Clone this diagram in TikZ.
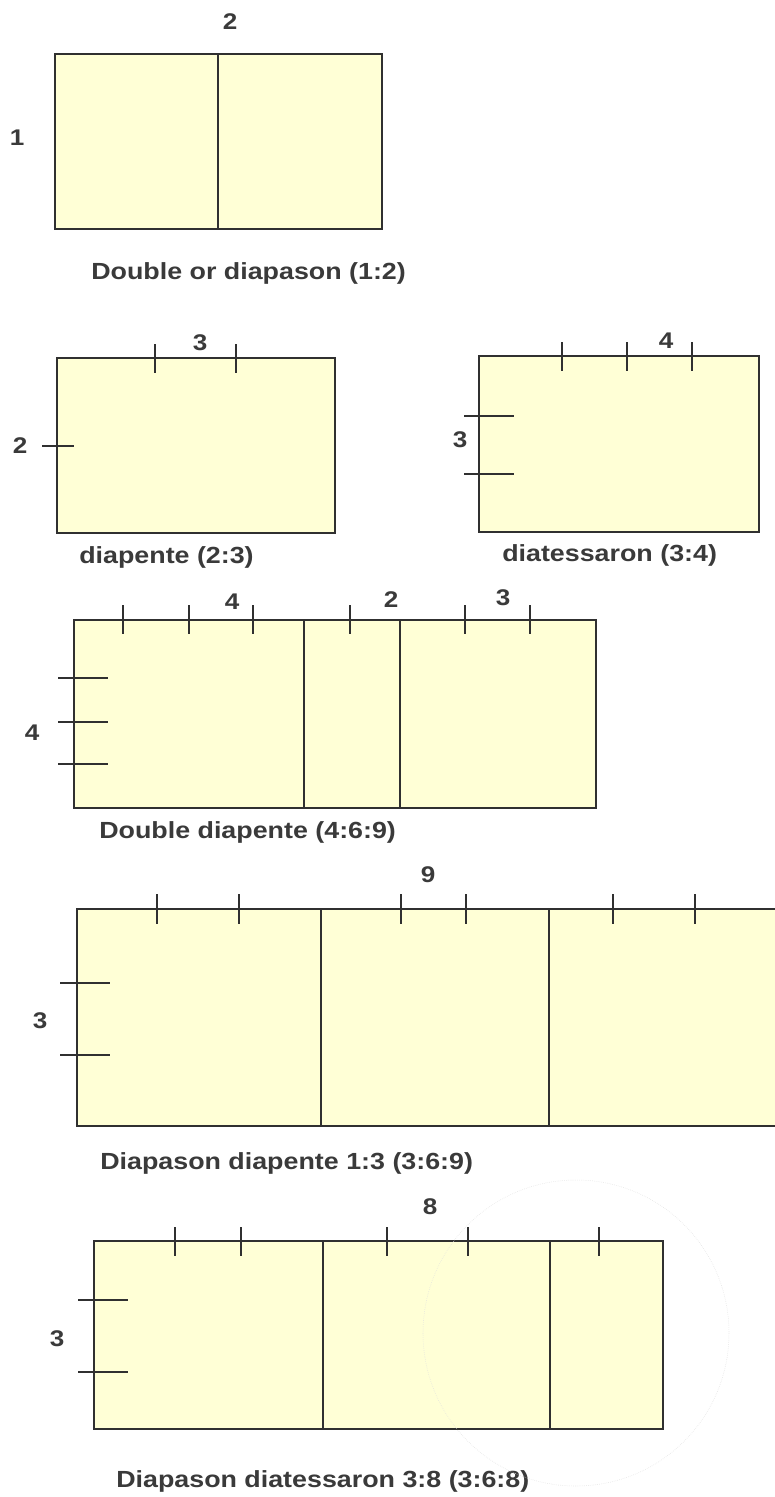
\documentclass[tikz,border=0pt]{standalone}
\usepackage{fontspec}
\setmainfont{Liberation Sans}
\newfontfamily\labfont[FakeStretch=1.15]{Liberation Sans}
\definecolor{paper}{HTML}{FFFFD6}
\definecolor{ink}{HTML}{303030}
\definecolor{txt}{HTML}{3A3A3A}
\begin{document}
\begin{tikzpicture}[x=0.75pt,y=-0.75pt,
  panel/.style={draw=ink,line width=1.7pt,fill=paper},
  divider/.style={draw=ink,line width=1.7pt},
  tickmark/.style={draw=ink,line width=1.7pt},
  num/.style={text=txt,font=\labfont\bfseries\fontsize{17}{18}\selectfont,inner sep=0pt},
  caption/.style={text=txt,font=\labfont\bfseries\fontsize{17.5}{20}\selectfont,inner sep=0pt,anchor=west},
  scan/.style={draw=gray!25,line width=0.4pt,densely dotted}]
\fill[white] (0,0) rectangle (775,1497);
\useasboundingbox (0,0) rectangle (775,1497);
\clip (0,0) rectangle (775,1497);

% 1 : Double or diapason
\draw[panel] (55,54) rectangle (382,229);
\draw[divider] (218,54) -- (218,229);
\node[num] (aTop) at (230,22) {2};
\node[num] (aSide) at (17,138) {1};
\node[caption] (aCap) at (91,273) {Double or diapason (1:2)};

% 2 : diapente
\draw[panel] (57,358) rectangle (335,533);
\foreach \x in {155,236} \draw[tickmark] (\x,344) -- (\x,373);
\draw[tickmark] (42,446) -- (74,446);
\node[num] (bTop) at (200,343) {3};
\node[num] (bSide) at (20,446) {2};
\node[caption] (bCap) at (79,557) {diapente (2:3)};

% 3 : diatessaron
\draw[panel] (479,356) rectangle (759,532);
\foreach \x in {562,627,692} \draw[tickmark] (\x,342) -- (\x,371);
\foreach \y in {416,474} \draw[tickmark] (464,\y) -- (514,\y);
\node[num] (cTop) at (666,341) {4};
\node[num] (cSide) at (460,440) {3};
\node[caption] (cCap) at (502,555) {diatessaron (3:4)};

% 4 : Double diapente
\draw[panel] (74,620) rectangle (596,808);
\foreach \x in {304,400} \draw[divider] (\x,620) -- (\x,808);
\foreach \x in {123,189,253,350,465,530} \draw[tickmark] (\x,605) -- (\x,634);
\foreach \y in {678,722,764} \draw[tickmark] (58,\y) -- (108,\y);
\node[num] (dTopA) at (232,602) {4};
\node[num] (dTopB) at (391,600) {2};
\node[num] (dTopC) at (503,598) {3};
\node[num] (dSide) at (32,733) {4};
\node[caption] (dCap) at (99,832) {Double diapente (4:6:9)};

% 5 : Diapason diapente
\draw[panel] (77,909) rectangle (790,1126);
\foreach \x in {321,549} \draw[divider] (\x,909) -- (\x,1126);
\foreach \x in {157,239,401,466,613,695} \draw[tickmark] (\x,894) -- (\x,924);
\foreach \y in {983,1055} \draw[tickmark] (60,\y) -- (110,\y);
\node[num] (eTop) at (428,875) {9};
\node[num] (eSide) at (40,1021) {3};
\node[caption] (eCap) at (100,1163) {Diapason diapente 1:3 (3:6:9)};

% 6 : Diapason diatessaron
\draw[panel] (94,1241) rectangle (663,1429);
\foreach \x in {323,550} \draw[divider] (\x,1241) -- (\x,1429);
\foreach \x in {175,241,387,468,599} \draw[tickmark] (\x,1227) -- (\x,1256);
\foreach \y in {1300,1372} \draw[tickmark] (78,\y) -- (128,\y);
\node[num] (fTop) at (430,1207) {8};
\node[num] (fSide) at (57,1339) {3};
\node[caption] (fCap) at (116,1481) {Diapason diatessaron 3:8 (3:6:8)};
\draw[scan] (576,1333) circle (153);
\end{tikzpicture}
\end{document}
